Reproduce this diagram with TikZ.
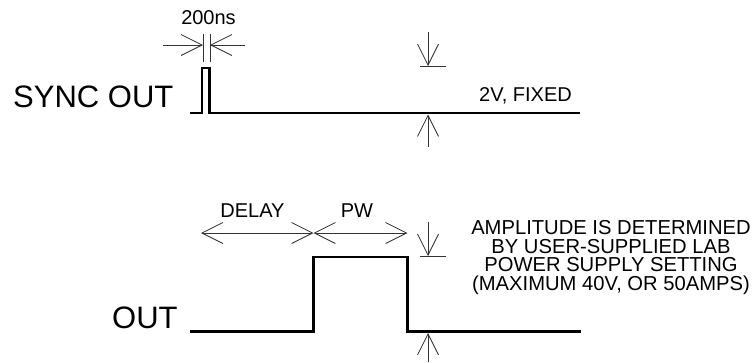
\documentclass[tikz,border=0pt]{standalone}
\usepackage{fontspec}
\setmainfont{Liberation Sans}
\usetikzlibrary{arrows.meta,positioning}

\begin{document}
\begin{tikzpicture}[
  x=1pt, y=-1pt,
  every node/.style={inner sep=0pt},
  big/.style={font=\fontsize{31}{31}\selectfont, anchor=base west},
  small/.style={font=\fontsize{20}{20}\selectfont},
  wave/.style={line width=2.8pt, line join=miter},
  dim/.style={draw=black!80, line width=0.8pt},
  barb/.style={dim, -{Straight Barb[length=21pt, width=21pt]}},
  twobarb/.style={dim, {Straight Barb[length=21pt, width=21pt]}-{Straight Barb[length=21pt, width=21pt]}}
]
  \useasboundingbox (0,0) rectangle (753,362);

  % sync pulse
  \node[big] (sync) at (13,107) {SYNC OUT};
  \coordinate (s0) at (190,113);
  \coordinate (s1) at (202,113);
  \coordinate (s2) at (209.5,68);
  \coordinate (s3) at (580,113);
  \draw[wave] (s0) -- (s1) |- (s2) |- (s3);

  % 200ns width
  \coordinate (wl) at (203,34);
  \coordinate (wlb) at (203,62);
  \coordinate (wr) at (210,34);
  \coordinate (wrb) at (210,62);
  \draw[dim] (wl) -- (wlb);
  \draw[dim] (wr) -- (wrb);
  \coordinate (wa) at (163,45);
  \coordinate (wat) at (203,45);
  \coordinate (wb) at (245,45);
  \coordinate (wbt) at (210,45);
  \draw[barb] (wa) -- (wat);
  \draw[barb] (wb) -- (wbt);
  \node[small, anchor=base] (ns) at (208.5,24.5) {200ns};

  % 2V level
  \coordinate (ta) at (428,32);
  \coordinate (tat) at (428,66);
  \coordinate (tt1) at (420,66);
  \coordinate (tt2) at (446,66);
  \coordinate (tb) at (428,147);
  \coordinate (tbt) at (428,114.5);
  \draw[barb] (ta) -- (tat);
  \draw[dim] (tt1) -- (tt2);
  \draw[barb] (tb) -- (tbt);
  \node[small, anchor=base east] (fixed) at (572,101) {2V, FIXED};

  % out pulse
  \node[big] (out) at (112,328) {OUT};
  \coordinate (o0) at (190,331.5);
  \coordinate (o1) at (313.5,331.5);
  \coordinate (o2) at (407.5,257);
  \coordinate (o3) at (581,331.5);
  \draw[wave] (o0) -- (o1) |- (o2) |- (o3);

  % delay and pw
  \coordinate (d0) at (201,233);
  \coordinate (d1) at (313.5,233);
  \coordinate (d2) at (407.5,233);
  \draw[twobarb] (d0) -- (d1);
  \draw[twobarb] (d1) -- (d2);
  \node[small, anchor=base] (delay) at (252.5,217.5) {DELAY};
  \node[small, anchor=base] (pw) at (357,217.5) {PW};

  % amplitude
  \coordinate (ba) at (428,222);
  \coordinate (bat) at (428,256);
  \coordinate (bt1) at (420,256.5);
  \coordinate (bt2) at (446,256.5);
  \coordinate (bb) at (428,362);
  \coordinate (bbt) at (428,333);
  \draw[barb] (ba) -- (bat);
  \draw[dim] (bt1) -- (bt2);
  \draw[barb] (bb) -- (bbt);
  \node[font=\fontsize{20.2}{18.4}\selectfont, align=center, anchor=base] (amp) at (611,290)
    {AMPLITUDE IS DETERMINED\\BY USER-SUPPLIED LAB\\POWER SUPPLY SETTING\\(MAXIMUM 40V, OR 50AMPS)};
\end{tikzpicture}
\end{document}
